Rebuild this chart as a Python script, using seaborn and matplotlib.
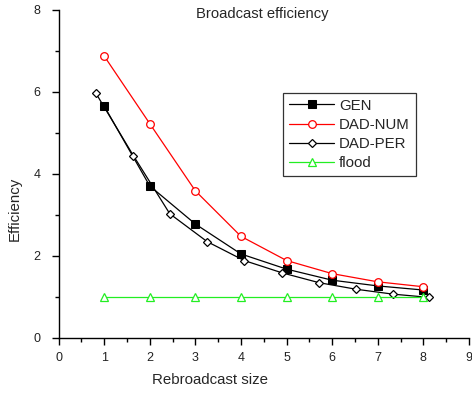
import pandas as pd
import matplotlib
matplotlib.use("Agg")
import matplotlib.pyplot as plt
from matplotlib.ticker import MultipleLocator
import seaborn as sns

# values
size = [1, 2, 3, 4, 5, 6, 7, 8]
gen = [5.66, 3.71, 2.78, 2.05, 1.68, 1.41, 1.27, 1.17]
dad_num = [6.88, 5.23, 3.59, 2.48, 1.89, 1.57, 1.37, 1.25]
per_size = [0.82, 1.64, 2.44, 3.26, 4.07, 4.90, 5.71, 6.52, 7.33, 8.13]
dad_per = [5.97, 4.45, 3.03, 2.35, 1.89, 1.59, 1.35, 1.19, 1.07, 0.99]
flood = [1.0, 1.0, 1.0, 1.0, 1.0, 1.0, 1.0, 1.0]

sns.set_style("ticks")
plt.rcParams["font.family"] = ["Liberation Sans", "DejaVu Sans"]

fig = plt.figure(figsize=(4.72, 3.94), dpi=100)
ax = fig.add_axes([58.5 / 472, 56 / 394, 410.5 / 472, 328 / 394])

sns.lineplot(x=size, y=gen, ax=ax, color="black", lw=0.9, marker="s",
             markersize=5.5, markerfacecolor="black", markeredgecolor="black",
             label="GEN")
sns.lineplot(x=size, y=dad_num, ax=ax, color="red", lw=0.9, marker="o",
             markersize=5.5, markerfacecolor="white", markeredgecolor="red",
             markeredgewidth=0.9, label="DAD-NUM")
sns.lineplot(x=per_size, y=dad_per, ax=ax, color="black", lw=0.9, marker="D",
             markersize=4.5, markerfacecolor="white", markeredgecolor="black",
             markeredgewidth=0.9, label="DAD-PER")
sns.lineplot(x=size, y=flood, ax=ax, color="#22ee22", lw=0.9, marker="^",
             markersize=6, markerfacecolor="white", markeredgecolor="#22ee22",
             markeredgewidth=0.9, label="flood")

ax.set_xlim(0, 9)
ax.set_ylim(0, 8)
ax.xaxis.set_major_locator(MultipleLocator(1))
ax.xaxis.set_minor_locator(MultipleLocator(0.5))
ax.yaxis.set_major_locator(MultipleLocator(2))
ax.yaxis.set_minor_locator(MultipleLocator(1))
ax.tick_params(which="major", length=4.8, width=1, color="black",
               labelsize=9, labelcolor="#222222")
ax.tick_params(which="minor", length=2.8, width=1, color="black")
ax.tick_params(axis="x", pad=5)
ax.tick_params(axis="y", pad=8)
for side in ["left", "bottom"]:
    ax.spines[side].set_linewidth(1.0)
    ax.spines[side].set_color("black")
sns.despine(ax=ax)

ax.set_xlabel("Rebroadcast size", fontsize=10.8, va="center")
ax.xaxis.set_label_coords(0.369, -0.128)
ax.set_ylabel("Efficiency", fontsize=10.8, va="center")
ax.yaxis.set_label_coords(-0.106, 0.393)
ax.text(0.496, 0.988, "Broadcast efficiency", transform=ax.transAxes,
        ha="center", va="center", fontsize=10.6)

leg = ax.legend(loc="upper left", bbox_to_anchor=(0.5476, 0.748),
                borderaxespad=0, fontsize=10.8, frameon=True, fancybox=False,
                handlelength=3.0, handletextpad=0.3, labelspacing=0.35,
                borderpad=0.4)
leg.get_frame().set_edgecolor("black")
leg.get_frame().set_linewidth(0.9)

fig.savefig("out.png", dpi=100)
